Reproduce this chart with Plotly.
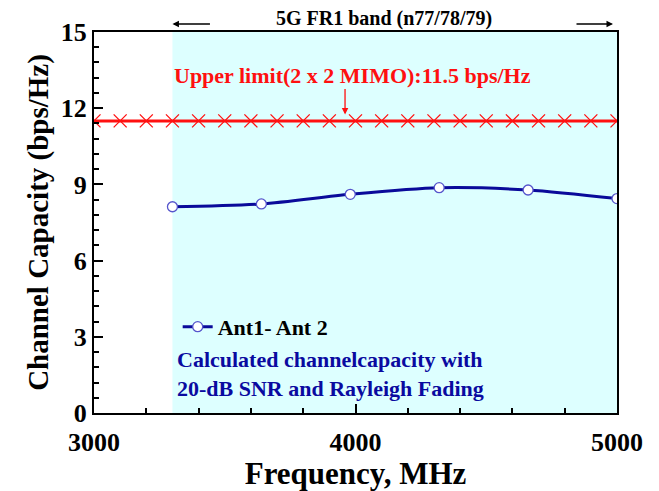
import plotly.graph_objects as go

# Data
freq_mhz = [3300, 3640, 3980, 4320, 4660, 5000]
capacity = [8.12, 8.23, 8.61, 8.87, 8.78, 8.44]
limit_freq = list(range(3000, 5001, 100))
limit_val = [11.5] * len(limit_freq)
series_name = "Ant1- Ant 2"
band_start, band_end = 3300, 5000
x_ticks = [3000, 4000, 5000]
y_ticks = [0, 3, 6, 9, 12, 15]

FONT = "Liberation Serif"

fig = go.Figure()

fig.add_shape(type="rect", xref="x", yref="y", x0=band_start, x1=band_end, y0=0, y1=15,
              fillcolor="#DDFFFF", line=dict(width=0), layer="below")

fig.add_trace(go.Scatter(
    x=limit_freq, y=limit_val, mode="lines+markers", showlegend=False,
    line=dict(color="#FF1010", width=3),
    marker=dict(symbol="x-thin-open", size=13, line=dict(color="#FF2020", width=1.3)),
))

fig.add_trace(go.Scatter(
    x=freq_mhz, y=capacity, mode="lines+markers", name=series_name,
    line=dict(color="#0A0A9A", width=3, shape="spline", smoothing=0.8),
    marker=dict(symbol="circle", size=10, color="white", line=dict(color="#5555CC", width=1.3)),
))

fig.add_annotation(x=0.555, y=1, xref="paper", yref="paper", xanchor="center", yanchor="bottom",
                   yshift=0, text="5G FR1 band (n77/78/79)", showarrow=False,
                   font=dict(family=FONT, size=20, color="black", weight="bold"))

# band arrows above plot
fig.add_annotation(x=band_start, y=1.021, xref="x", yref="paper", ax=39, ay=0,
                   text="", showarrow=True, arrowhead=2, arrowsize=1, arrowwidth=1.3,
                   arrowcolor="black")
fig.add_annotation(x=band_end, y=1.021, xref="x", yref="paper", ax=-38, ay=0, xshift=-4,
                   text="", showarrow=True, arrowhead=2, arrowsize=1, arrowwidth=1.3,
                   arrowcolor="black")

fig.add_annotation(x=3300, y=13.3, xref="x", yref="y", xanchor="left", yanchor="middle",
                   text="Upper limit(2 x 2 MIMO):11.5 bps/Hz", showarrow=False,
                   font=dict(family=FONT, size=22, color="#FF1010", weight="bold"))
fig.add_annotation(x=3960, y=11.75, xref="x", yref="y", ax=0, ay=-27,
                   text="", showarrow=True, arrowhead=2, arrowsize=1, arrowwidth=1.3,
                   arrowcolor="#FF1010")

fig.add_annotation(x=3310, y=1.55, xref="x", yref="y", xanchor="left", yanchor="middle",
                   align="left",
                   text="Calculated channelcapacity with<br>20-dB SNR and Rayleigh Fading",
                   showarrow=False,
                   font=dict(family=FONT, size=22, color="#0A0AA0", weight="bold"))

axis_common = dict(showline=True, linecolor="black", linewidth=2, mirror=True,
                   ticks="inside", tickcolor="black", tickwidth=2, ticklen=9,
                   showgrid=False, zeroline=False, automargin=False,
                   tickfont=dict(family=FONT, size=26, color="black", weight="bold"))

fig.update_xaxes(range=[3000, 5000], tickvals=x_ticks, ticklabelstandoff=5,
                 minor=dict(dtick=200, ticks="inside", ticklen=5, tickwidth=1.5, tickcolor="black"),
                 title=dict(text="Frequency, MHz", standoff=3,
                            font=dict(family=FONT, size=31, color="black", weight="bold")),
                 **axis_common)
fig.update_yaxes(range=[0, 15], tickvals=y_ticks,
                 minor=dict(dtick=0.6, ticks="inside", ticklen=5, tickwidth=1.5, tickcolor="black"),
                 title=dict(text="Channel Capacity (bps/Hz)", standoff=4,
                            font=dict(family=FONT, size=29, color="black", weight="bold")),
                 **axis_common)

fig.update_layout(
    width=659, height=491,
    margin=dict(l=94, r=42, t=32, b=78),
    plot_bgcolor="white", paper_bgcolor="white",
    legend=dict(x=0.16, y=0.226, xanchor="left", yanchor="middle",
                bgcolor="rgba(0,0,0,0)",
                font=dict(family=FONT, size=22, color="black", weight="bold")),
)

fig.write_html("out.html")
